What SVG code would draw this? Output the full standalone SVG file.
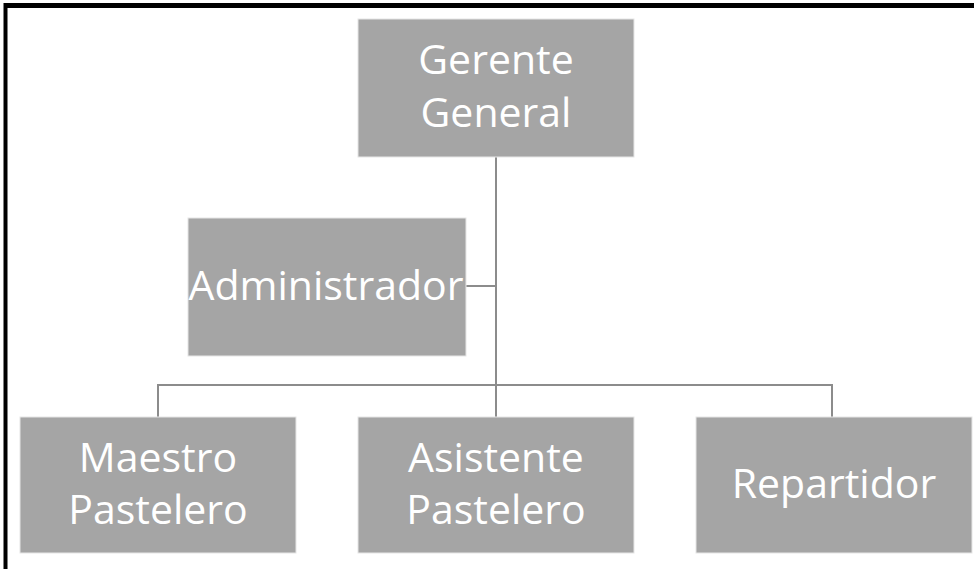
<svg xmlns="http://www.w3.org/2000/svg" width="974" height="569" viewBox="0 0 974 569">
<style>
.box{fill:#a5a5a5;stroke:#e6e6e6;stroke-width:1}
.t{font-family:"Open Sans","Liberation Sans",sans-serif;font-size:41px;fill:#ffffff;text-anchor:middle}
.c{stroke:#8c8c8c;stroke-width:2;fill:none}
</style>
<rect x="0" y="0" width="974" height="569" fill="#ffffff"/>
<line x1="5.5" y1="3" x2="5.5" y2="569" stroke="#000" stroke-width="4"/>
<line x1="4" y1="5.5" x2="974" y2="5.5" stroke="#000" stroke-width="5"/>
<g id="connectors">
<path class="c" d="M496 157 V385"/>
<path class="c" d="M466 286 H496"/>
<path class="c" d="M158 417 V385 H832 V417"/>
<path class="c" d="M496 385 V417"/>
</g>
<g id="gerente"><rect class="box" x="358" y="19" width="276" height="138"/><text class="t" x="496" y="74">Gerente</text><text class="t" x="496" y="127">General</text></g>
<g id="administrador"><rect class="box" x="188" y="218" width="278" height="138"/><text class="t" x="326" y="300">Administrador</text></g>
<g id="maestro"><rect class="box" x="20" y="417" width="276" height="136"/><text class="t" x="158" y="472">Maestro</text><text class="t" x="158" y="524">Pastelero</text></g>
<g id="asistente"><rect class="box" x="358" y="417" width="276" height="136"/><text class="t" x="496" y="472">Asistente</text><text class="t" x="496" y="524">Pastelero</text></g>
<g id="repartidor"><rect class="box" x="696" y="417" width="276" height="136"/><text class="t" x="834" y="498">Repartidor</text></g>
</svg>
